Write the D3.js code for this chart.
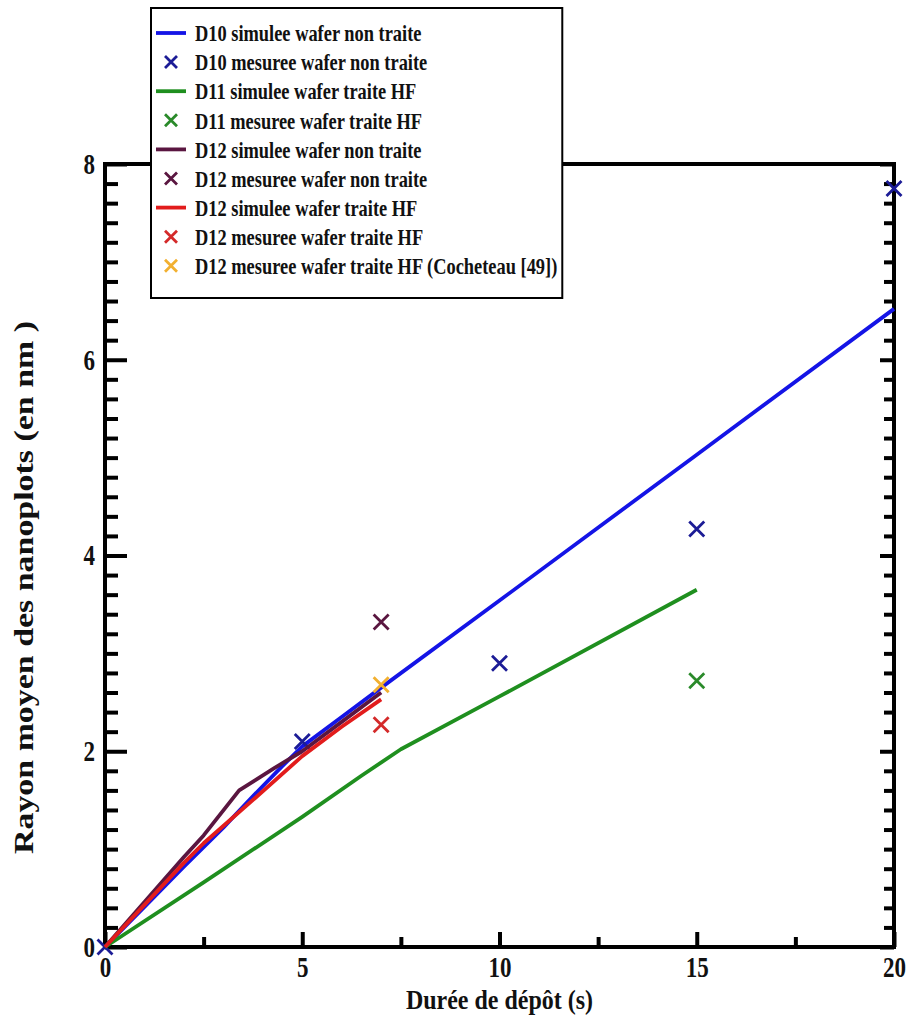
<!DOCTYPE html>
<html>
<head>
<meta charset="utf-8">
<script src="https://cdn.jsdelivr.net/npm/d3@7"></script>
<style>
  html, body { margin: 0; padding: 0; background: #fff; }
  svg { display: block; }
  text { font-family: "Liberation Serif", "Times New Roman", serif; font-weight: bold; fill: #111; }
</style>
</head>
<body>
<svg id="chart" width="911" height="1018"></svg>
<script>
// ---- data ----
const xMajorTicks = [0, 5, 10, 15, 20];
const xMinorTicks = [2.5, 7.5, 12.5, 17.5];
const yMajorTicks = [0, 2, 4, 6, 8];

const d10SimX = [0, 1, 2, 3, 3.7, 4.5, 5, 6, 7, 10, 15, 20];
const d10SimY = [0, 0.41, 0.82, 1.22, 1.52, 1.85, 2.05, 2.35, 2.65, 3.54, 5.03, 6.52];
const d11SimX = [0, 2.5, 5, 6.5, 7.5, 10, 15];
const d11SimY = [0, 0.66, 1.33, 1.75, 2.02, 2.56, 3.65];
const d12NtSimX = [0, 1, 2, 2.5, 3.4, 4.3, 5, 6, 7];
const d12NtSimY = [0, 0.46, 0.92, 1.14, 1.6, 1.83, 2.0, 2.3, 2.6];
const d12HfSimX = [0, 1, 2, 2.5, 3.8, 5, 6, 7];
const d12HfSimY = [0, 0.43, 0.86, 1.06, 1.52, 1.95, 2.25, 2.53];

const d10MesX = [0, 5, 10, 15, 20];
const d10MesY = [0, 2.1, 2.9, 4.27, 7.75];
const d11MesX = [15];
const d11MesY = [2.72];
const d12NtMesX = [7];
const d12NtMesY = [3.32];
const d12HfMesX = [7];
const d12HfMesY = [2.27];
const cochMesX = [7];
const cochMesY = [2.68];

const seriesNames = [
  "D10 simulee wafer non traite",
  "D10 mesuree wafer non traite",
  "D11 simulee wafer traite HF",
  "D11 mesuree wafer traite HF",
  "D12 simulee wafer non traite",
  "D12 mesuree wafer non traite",
  "D12 simulee wafer traite HF",
  "D12 mesuree wafer traite HF",
  "D12 mesuree wafer traite HF (Cocheteau [49])"
];
const seriesTypes = ["line", "x", "line", "x", "line", "x", "line", "x", "x"];
const seriesColors = ["#1414e6", "#1c1c96", "#1f8f1f", "#2a8a2a", "#5a1640", "#5a1640", "#e21c1c", "#d42a2a", "#f2b030"];
const seriesX = [d10SimX, d10MesX, d11SimX, d11MesX, d12NtSimX, d12NtMesX, d12HfSimX, d12HfMesX, cochMesX];
const seriesY = [d10SimY, d10MesY, d11SimY, d11MesY, d12NtSimY, d12NtMesY, d12HfSimY, d12HfMesY, cochMesY];

// ---- layout ----
const svg = d3.select("#chart");
const pL = 105, pR = 894, pT = 164, pB = 947;
const vStretch = 1.28; // glyphs in the reference are taller than wide
const x = d3.scaleLinear().domain([0, 20]).range([pL, pR]);
const y = d3.scaleLinear().domain([0, 8]).range([pB, pT]);

const yMinor = d3.range(0, 8.001, 0.2).map(v => +v.toFixed(1)).filter(v => !yMajorTicks.includes(v));

function styleAxis(g) {
  g.select(".domain").remove();
  g.selectAll(".tick line").attr("stroke", "#000").attr("stroke-width", 4);
}
function styleLabels(g) {
  g.selectAll(".tick text").each(function () {
    const t = d3.select(this);
    const tx = +t.attr("x") || 0, ty = +t.attr("y") || 0;
    t.attr("x", 0).attr("y", 0)
      .attr("transform", `translate(${tx},${ty}) scale(1,${vStretch})`)
      .attr("font-size", 23).attr("font-family", "Liberation Serif")
      .attr("font-weight", "bold").attr("fill", "#111");
  });
}

// bottom axis
svg.append("g").attr("transform", `translate(0,${pB})`)
  .call(d3.axisBottom(x).tickValues(xMajorTicks).tickSize(-15).tickPadding(9).tickFormat(d3.format("d")))
  .call(styleAxis).call(styleLabels);
svg.append("g").attr("transform", `translate(0,${pB})`)
  .call(d3.axisBottom(x).tickValues(xMinorTicks).tickSize(-10).tickFormat(""))
  .call(styleAxis);

// left axis
svg.append("g").attr("transform", `translate(${pL},0)`)
  .call(d3.axisLeft(y).tickValues(yMajorTicks).tickSize(-22).tickPadding(10).tickFormat(d3.format("d")))
  .call(styleAxis).call(styleLabels);
svg.append("g").attr("transform", `translate(${pL},0)`)
  .call(d3.axisLeft(y).tickValues(yMinor).tickSize(-13).tickFormat(""))
  .call(styleAxis);

// right axis
svg.append("g").attr("transform", `translate(${pR},0)`)
  .call(d3.axisRight(y).tickValues(yMajorTicks).tickSize(-14).tickFormat(""))
  .call(styleAxis);
svg.append("g").attr("transform", `translate(${pR},0)`)
  .call(d3.axisRight(y).tickValues(yMinor).tickSize(-10).tickFormat(""))
  .call(styleAxis);

// frame
svg.append("rect").attr("x", pL).attr("y", pT).attr("width", pR - pL).attr("height", pB - pT)
  .attr("fill", "none").attr("stroke", "#000").attr("stroke-width", 4);

// series
const line = d3.line().x(d => x(d[0])).y(d => y(d[1]));
function drawX(g, cx, cy, color, s) {
  g.append("path")
    .attr("d", `M${cx - s},${cy - s}L${cx + s},${cy + s}M${cx - s},${cy + s}L${cx + s},${cy - s}`)
    .attr("stroke", color).attr("stroke-width", 2.8).attr("fill", "none");
}
const plotG = svg.append("g");
seriesNames.forEach((name, i) => {
  const pts = seriesX[i].map((v, j) => [v, seriesY[i][j]]);
  if (seriesTypes[i] === "line") {
    plotG.append("path").datum(pts).attr("d", line)
      .attr("fill", "none").attr("stroke", seriesColors[i]).attr("stroke-width", 3.8)
      .attr("stroke-linejoin", "round");
  } else {
    pts.forEach(p => drawX(plotG, x(p[0]), y(p[1]), seriesColors[i], 7.5));
  }
});

// legend
const lg = svg.append("g");
const lgX = 151, lgY = 8, lgH = 290, rowH = 29.1, row0 = 33, txtX = 195, fs = 18.4;
const lgRect = lg.append("rect").attr("x", lgX).attr("y", lgY).attr("height", lgH)
  .attr("fill", "#fff").attr("stroke", "#000").attr("stroke-width", 2);
let maxEnd = 0;
seriesNames.forEach((name, i) => {
  const cy = row0 + i * rowH;
  if (seriesTypes[i] === "line") {
    lg.append("line").attr("x1", 156).attr("x2", 186).attr("y1", cy).attr("y2", cy)
      .attr("stroke", seriesColors[i]).attr("stroke-width", 3.8);
  } else {
    drawX(lg, 171, cy, seriesColors[i], 6);
  }
  const t = lg.append("text").attr("transform", `translate(${txtX},${cy}) scale(1,${vStretch})`)
    .attr("dy", "0.35em").attr("font-size", fs).text(name);
  maxEnd = Math.max(maxEnd, txtX + t.node().getComputedTextLength() + 5);
});
lgRect.attr("width", maxEnd - lgX);

// axis titles
svg.append("text").attr("transform", `translate(${(pL + pR) / 2},1009) scale(1,1.1)`)
  .attr("text-anchor", "middle").attr("font-size", 24).text("Durée de dépôt (s)");
svg.append("text").attr("transform", `translate(33,${(pT + pB) / 2 + 32}) rotate(-90) scale(${vStretch},1)`)
  .attr("text-anchor", "middle").attr("font-size", 26.5).text("Rayon moyen des nanoplots (en nm )");
</script>
</body>
</html>
